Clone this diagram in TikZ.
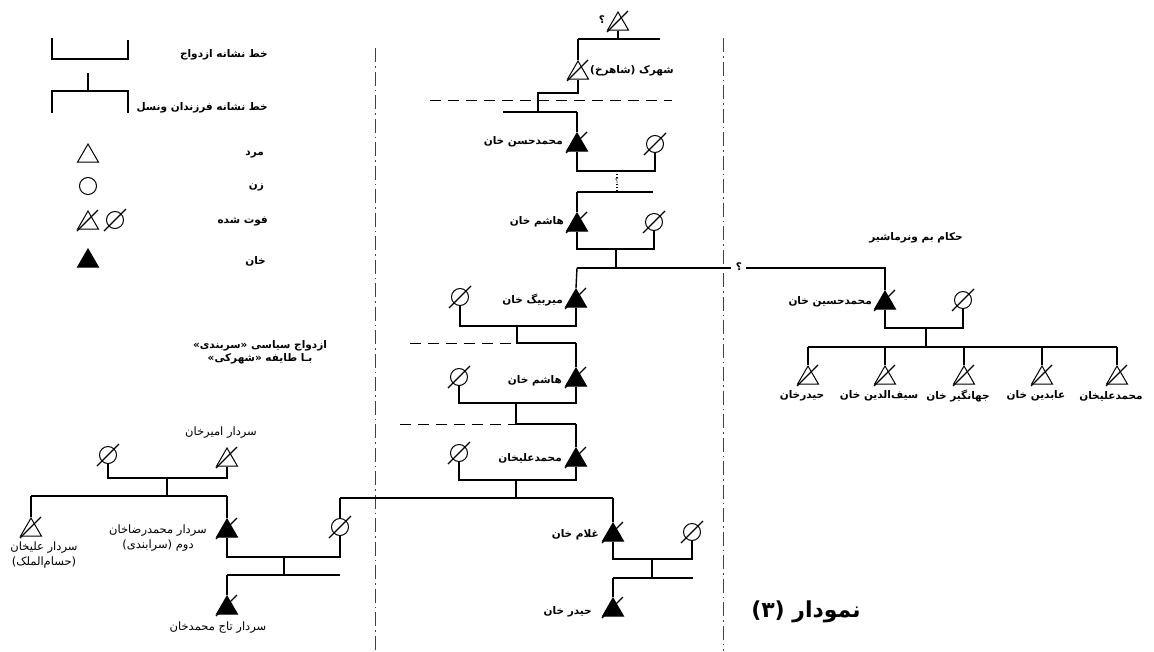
\documentclass[tikz,border=0pt]{standalone}
\usepackage{fontspec}
\usetikzlibrary{shapes.geometric}
\TeXXeTstate=1
\newfontfamily\ar[Script=Arabic]{DejaVu Sans}
\tikzset{
  tri/.style={regular polygon, regular polygon sides=3, minimum size=24pt, inner sep=0pt, draw, line width=1pt},
  ftri/.style={tri, fill=black},
  wom/.style={circle, minimum size=17pt, inner sep=0pt, draw, line width=1pt},
  lnk/.style={line width=1.4pt},
  slashln/.style={line width=1.1pt},
  lab/.style={font=\ar\bfseries\fontsize{10.5}{13}\selectfont, inner sep=0pt},
  rlab/.style={font=\ar\fontsize{11.5}{15}\selectfont, inner sep=0pt},
  slab/.style={font=\ar\fontsize{7}{8}\selectfont, inner sep=0pt},
  dashdot/.style={line width=0.7pt, dash pattern=on 14pt off 4pt on 1.5pt off 4pt, black!75},
  dsh/.style={line width=1pt, dash pattern=on 11pt off 7pt}
}
\newcommand{\xtri}[1]{\draw[slashln] ([shift={(-11pt,-8pt)}]#1.center) -- ([shift={(10pt,13pt)}]#1.center);}
\newcommand{\xcirc}[1]{\draw[slashln] ([shift={(-11pt,-11pt)}]#1.center) -- ([shift={(11pt,11pt)}]#1.center);}
\begin{document}
\begin{tikzpicture}[x=1pt,y=-1pt]
\useasboundingbox (0,0) rectangle (1154,651);
\fill[white] (0,0) rectangle (1154,651);
% dash-dot separators
\draw[dashdot] (375,48) -- (375,651);
\draw[dashdot] (723,38) -- (723,651);
% ---------- legend ----------
\coordinate (ma) at (52,38); \coordinate (mb) at (52,59);
\coordinate (mc) at (128,59); \coordinate (md) at (128,40);
\draw[line width=1.1pt] (ma) -- (mb) -- (mc) -- (md);
\node[lab, anchor=east] (lg1) at (268,55) {\beginR خط نشانه ازدواج\endR};
\coordinate (da) at (88,73); \coordinate (db) at (88,91);
\coordinate (dll) at (52,113); \coordinate (drr) at (128,113);
\draw[line width=1.1pt] (da) -- (db);
\draw[line width=1.1pt] (dll) |- (db) -| (drr);
\node[lab, anchor=east] (lg2) at (268,108) {\beginR خط نشانه فرزندان ونسل\endR};
\node[tri] (lm) at (88,156) {};
\node[lab, anchor=east] (lg3) at (264,155) {\beginR مرد\endR};
\node[wom] (lw) at (88,186) {};
\node[lab, anchor=east] (lg4) at (264,187) {\beginR زن\endR};
\node[tri] (ld) at (88,223) {}; \xtri{ld}
\node[wom] (ldc) at (115,220) {}; \xcirc{ldc}
\node[lab, anchor=east] (lg5) at (268,221) {\beginR فوت شده\endR};
\node[ftri] (lk) at (88,261) {};
\node[lab, anchor=east] (lg6) at (266,261) {\beginR خان\endR};
% ---------- centre line ----------
\node[lab] (q0) at (602,20) {؟};
\node[tri] (t0) at (618,24) {}; \xtri{t0}
\coordinate (b0l) at (578,39); \coordinate (b0r) at (660,39); \coordinate (b0m) at (618,39);
\draw[lnk] (t0.south) -- (b0m);
\draw[lnk] (b0l) -- (b0r);
\node[tri] (t1) at (578,73) {}; \xtri{t1}
\draw[lnk] (b0l) -- (t1.north);
\node[lab, anchor=west] (l1) at (590,71) {\beginR شهرک (شاهرخ)\endR};
\coordinate (k1) at (538,93); \coordinate (k1b) at (538,112);
\draw[lnk] (t1.south) |- (k1) -- (k1b);
\coordinate (b1l) at (503,112); \coordinate (b1r) at (577,112);
\draw[lnk] (b1l) -- (b1r);
\draw[dsh] (430,100) -- (672,100);
\node[ftri] (t2) at (577,145) {}; \xtri{t2}
\draw[lnk] (b1r) -- (t2.north);
\node[lab, anchor=east] (l2) at (563,142) {\beginR محمدحسن خان\endR};
\node[wom] (c2) at (655,144) {}; \xcirc{c2}
\coordinate (m2) at (617,171); \coordinate (s2) at (617,192);
\draw[lnk] (t2.south) |- (m2) -| (c2.south);
\draw[line width=1.2pt, dotted] (m2) -- (s2);
\node[slab, fill=white] (q2) at (617,181) {؟};
\coordinate (b2l) at (577,192); \coordinate (b2r) at (653,192);
\draw[lnk] (b2l) -- (b2r);
\node[ftri] (t3) at (577,225) {}; \xtri{t3}
\draw[lnk] (b2l) -- (t3.north);
\node[lab, anchor=east] (l3) at (564,222) {\beginR هاشم خان\endR};
\node[wom] (c3) at (654,222) {}; \xcirc{c3}
\coordinate (m3) at (616,249); \coordinate (s3) at (616,268);
\draw[lnk] (t3.south) |- (m3) -| (c3.south);
\draw[lnk] (m3) -- (s3);
\coordinate (b3l) at (577,268); \coordinate (b3r) at (731,268);
\draw[lnk] (b3l) -- (b3r);
\node[lab] (q3) at (739,267) {؟};
\coordinate (b3x) at (746,268);
\node[ftri] (t13) at (885,303) {}; \xtri{t13}
\draw[lnk] (b3x) -| (t13.north);
\node[ftri] (t4) at (576,301) {}; \xtri{t4}
\draw[lnk] (b3l) -- (t4.north);
\node[lab, anchor=east] (l4) at (563,300) {\beginR میربیگ خان\endR};
\node[wom] (c4) at (460,297) {}; \xcirc{c4}
\coordinate (m4) at (517,326); \coordinate (s4) at (517,343); \coordinate (b4r) at (576,343);
\draw[lnk] (t4.south) |- (m4) -| (c4.south);
\draw[lnk] (m4) -- (s4) -- (b4r);
\draw[dsh] (410,343) -- (s4);
\node[ftri] (t5) at (576,380) {}; \xtri{t5}
\draw[lnk] (b4r) -- (t5.north);
\node[lab, anchor=east] (l5) at (562,381) {\beginR هاشم خان\endR};
\node[wom] (c5) at (459,377) {}; \xcirc{c5}
\coordinate (m5) at (516,403); \coordinate (s5) at (516,424); \coordinate (b5r) at (576,424);
\draw[lnk] (t5.south) |- (m5) -| (c5.south);
\draw[lnk] (m5) -- (s5) -- (b5r);
\draw[dsh] (400,424) -- (s5);
\node[ftri] (t6) at (576,460) {}; \xtri{t6}
\draw[lnk] (b5r) -- (t6.north);
\node[lab, anchor=east] (l6) at (562,458) {\beginR محمدعلیخان\endR};
\node[wom] (c6) at (459,453) {}; \xcirc{c6}
\coordinate (m6) at (516,480); \coordinate (s6) at (516,498);
\draw[lnk] (t6.south) |- (m6) -| (c6.south);
\draw[lnk] (m6) -- (s6);
\coordinate (b6l) at (340,498); \coordinate (b6r) at (613,498);
\draw[lnk] (b6l) -- (b6r);
\node[wom] (c9) at (340,527) {}; \xcirc{c9}
\draw[lnk] (b6l) -- (c9.north);
\node[ftri] (t7) at (613,535) {}; \xtri{t7}
\draw[lnk] (b6r) -- (t7.north);
\node[lab, anchor=east] (l7) at (599,535) {\beginR غلام خان\endR};
\node[wom] (c7) at (692,532) {}; \xcirc{c7}
\coordinate (m7) at (652,559); \coordinate (s7) at (652,578);
\coordinate (b7l) at (613,578); \coordinate (b7r) at (693,578);
\draw[lnk] (t7.south) |- (m7) -| (c7.south);
\draw[lnk] (m7) -- (s7);
\draw[lnk] (b7l) -- (b7r);
\node[ftri] (t8) at (613,610) {}; \xtri{t8}
\draw[lnk] (b7l) -- (t8.north);
\node[lab, anchor=east] (l8) at (592,612) {\beginR حیدر خان\endR};
% ---------- left family ----------
\node[rlab] (l10) at (221,433) {\beginR سردار امیرخان\endR};
\node[wom] (c10) at (108,455) {}; \xcirc{c10}
\node[tri] (t10) at (227,460) {}; \xtri{t10}
\coordinate (m10) at (167,478); \coordinate (s10) at (167,496);
\coordinate (b10l) at (31,496); \coordinate (b10r) at (227,496);
\draw[lnk] (t10.south) |- (m10) -| (c10.south);
\draw[lnk] (m10) -- (s10);
\draw[lnk] (b10l) -- (b10r);
\node[tri] (t11) at (31,530) {}; \xtri{t11}
\draw[lnk] (b10l) -- (t11.north);
\node[rlab, align=center] (l11) at (44,555) {\beginR سردار علیخان\endR\\\beginR (حسام‌الملک)\endR};
\node[ftri] (t9) at (227,531) {}; \xtri{t9}
\draw[lnk] (b10r) -- (t9.north);
\node[rlab, align=center] (l9) at (158,538) {\beginR سردار محمدرضاخان\endR\\\beginR دوم (سرابندی)\endR};
\coordinate (m9) at (284,557); \coordinate (s9) at (284,575);
\coordinate (b9l) at (227,575); \coordinate (b9r) at (340,575);
\draw[lnk] (t9.south) |- (m9) -| (c9.south);
\draw[lnk] (m9) -- (s9);
\draw[lnk] (b9l) -- (b9r);
\node[ftri] (t12) at (227,608) {}; \xtri{t12}
\draw[lnk] (b9l) -- (t12.north);
\node[rlab] (l12) at (218,628) {\beginR سردار تاج محمدخان\endR};
\node[lab, align=center] (pol) at (260,352) {\beginR ازدواج سیاسی «سربندی»\endR\\\beginR بـا طایفه «شهرکی»\endR};
% ---------- right family ----------
\node[lab] (rt) at (916,238) {\beginR حکام بم ونرماشیر\endR};
\node[lab, anchor=east] (l13) at (872,302) {\beginR محمدحسین خان\endR};
\node[wom] (c13) at (963,300) {}; \xcirc{c13}
\coordinate (m13) at (926,328); \coordinate (s13) at (926,347);
\coordinate (b13l) at (808,347); \coordinate (b13r) at (1117,347);
\draw[lnk] (t13.south) |- (m13) -| (c13.south);
\draw[lnk] (m13) -- (s13);
\draw[lnk] (b13l) -- (b13r);
\foreach \x/\n/\t in {808/a/{حیدرخان}, 885/b/{سیف‌الدین خان}, 964/c/{جهانگیر خان}, 1042/d/{عابدین خان}, 1117/e/{محمدعلیخان}}{
  \node[tri] (ch\n) at (\x,378) {}; \xtri{ch\n}
  \draw[lnk] (ch\n.north |- s13) -- (ch\n.north);
  \node[lab] (chl\n) at (\x-6,396) {\beginR\t\endR};
}
% title
\node[font=\ar\bfseries\fontsize{22}{26}\selectfont, inner sep=0pt] (title) at (806,612) {\beginR نمودار (۳)\endR};
\end{tikzpicture}
\end{document}
